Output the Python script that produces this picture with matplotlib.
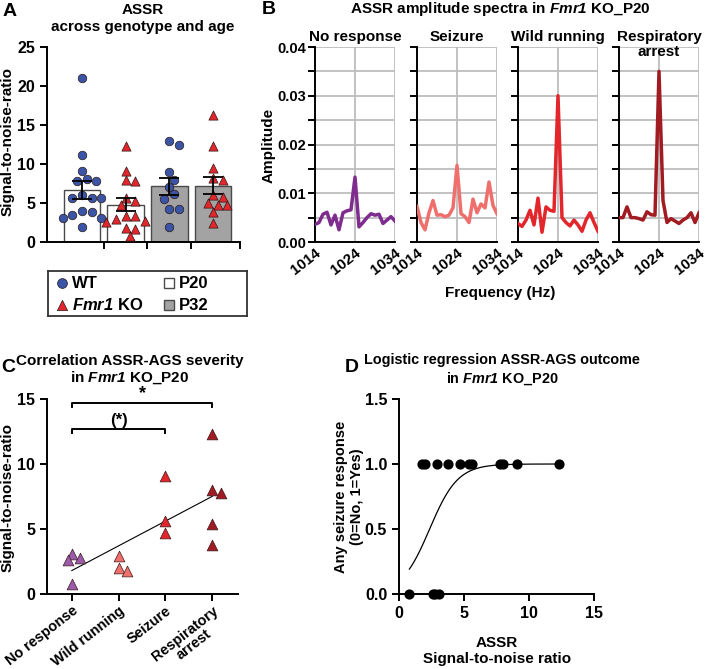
import numpy as np
import matplotlib
matplotlib.use("Agg")
import matplotlib.pyplot as plt
from matplotlib.patches import Rectangle

plt.rcParams.update({
    "font.family": "Liberation Sans",
    "font.weight": "bold",
    "axes.labelweight": "bold",
    "axes.titleweight": "bold",
    "mathtext.fontset": "custom",
    "mathtext.it": "Liberation Sans:italic:bold",
    "mathtext.rm": "Liberation Sans:italic:bold",
    "mathtext.bf": "Liberation Sans:bold",
    "axes.linewidth": 1.4,
    "xtick.major.width": 1.4,
    "ytick.major.width": 1.4,
    "ytick.minor.width": 1.4,
    "xtick.major.size": 5,
    "ytick.major.size": 5,
    "ytick.minor.size": 5,
    "xtick.labelsize": 11,
    "ytick.labelsize": 11.5,
})

# ---- data -------------------------------------------------------------
# A: ASSR SNR per animal
groups_a = ["WT P20", "KO P20", "WT P32", "KO P32"]
wt_p20 = [21.0, 11.1, 9.1, 8.1, 7.8, 7.8, 6.0, 5.7, 5.7, 5.6, 4.0, 3.8, 3.4, 3.1, 3.1, 1.9]
ko_p20 = [12.3, 9.1, 8.0, 7.8, 5.6, 5.3, 4.7, 3.3, 3.3, 2.9, 2.7, 2.6, 1.8, 1.7, 0.8]
wt_p32 = [12.9, 12.5, 9.0, 8.0, 7.0, 6.1, 5.5, 4.2, 4.2, 1.9]
ko_p32 = [16.3, 12.3, 9.5, 8.2, 8.0, 6.0, 5.8, 5.0, 4.7, 4.7, 3.8, 2.5]

# B: amplitude spectra (Fmr1 KO P20)
freqs = np.arange(1014, 1035)
spec_nr = [0.0036, 0.0040, 0.0057, 0.0061, 0.0035, 0.0055, 0.0025, 0.0060, 0.0064, 0.0066, 0.0133,
           0.0031, 0.0040, 0.0050, 0.0058, 0.0055, 0.0057, 0.0038, 0.0045, 0.0052, 0.0043]
spec_sz = [0.0073, 0.0040, 0.0025, 0.0060, 0.0085, 0.0055, 0.0056, 0.0052, 0.0055, 0.0070, 0.0157,
           0.0058, 0.0052, 0.0040, 0.0088, 0.0060, 0.0078, 0.0070, 0.0123, 0.0075, 0.0058]
spec_wr = [0.0038, 0.0032, 0.0045, 0.0065, 0.0035, 0.0090, 0.0020, 0.0072, 0.0065, 0.0063, 0.0300,
           0.0050, 0.0040, 0.0033, 0.0045, 0.0035, 0.0022, 0.0045, 0.0060, 0.0040, 0.0022]
spec_ra = [0.0050, 0.0050, 0.0072, 0.0050, 0.0050, 0.0048, 0.0045, 0.0062, 0.0056, 0.0055, 0.0350,
           0.0085, 0.0040, 0.0048, 0.0043, 0.0038, 0.0045, 0.0050, 0.0060, 0.0040, 0.0060]
spec_titles = ["No response", "Seizure", "Wild running", "Respiratory\narrest"]

# C/D: SNR per AGS outcome
cats_c = ["No response", "Wild running", "Seizure", "Respiratory\narrest"]
snr_nr = [3.1, 2.8, 2.6, 0.8]
snr_wr = [2.9, 2.0, 1.8]
snr_sz = [9.1, 5.6, 4.7]
snr_ra = [12.3, 8.0, 7.8, 5.4, 3.8]

BLUE = "#3B54A5"
RED = "#E3262B"
PURPLE_B = "#7E2C8E"
PURPLE_C = "#9C5AAA"
SALMON = "#EF6F6C"
DARKRED = "#A01B22"
GREY_BAR = "#A3A3A3"

W, H = 709, 669
fig = plt.figure(figsize=(W / 100, H / 100), dpi=100)


def box(l, t, r, b):
    return fig.add_axes([l / W, 1 - b / H, (r - l) / W, (b - t) / H])


def ftext(x, y, s, **kw):
    kw.setdefault("ha", "center")
    kw.setdefault("va", "center")
    return fig.text(x / W, 1 - y / H, s, **kw)


def swarm(vals, px_x, px_y, d, step=0.55):
    # simple beeswarm: offsets (data units) so markers don't overlap
    placed, offs = [], []
    for v in vals:
        cy = v * px_y
        for k in range(0, 30):
            cands = [0] if k == 0 else [k, -k]
            ok = None
            for s in cands:
                cx = s * d * step
                if all((cx - ox) ** 2 + (cy - oy) ** 2 >= d ** 2 for ox, oy in placed):
                    ok = cx
                    break
            if ok is not None:
                placed.append((ok, cy))
                offs.append(ok / px_x)
                break
    return np.array(offs)


def clean(ax):
    ax.spines["top"].set_visible(False)
    ax.spines["right"].set_visible(False)


# ---- A ----------------------------------------------------------------
axA = box(47, 47, 240, 242)
clean(axA)
a_sets = [wt_p20, ko_p20, wt_p32, ko_p32]
fills = ["white", "white", GREY_BAR, GREY_BAR]
marks = ["o", "^", "o", "^"]
mcols = [BLUE, RED, BLUE, RED]
for i, vals in enumerate(a_sets):
    v = np.array(vals)
    m = v.mean()
    sem = v.std(ddof=1) / np.sqrt(len(v))
    axA.bar(i, m, width=0.84, color=fills[i], edgecolor="#4a4a4a", lw=1.0, zorder=1)
    offs = swarm(v, 43.7, 7.8, 8.0, step=0.6)
    axA.scatter(i + offs, v, s=38 if marks[i] == "o" else 44, marker=marks[i], color=mcols[i],
                edgecolor="#2a1a1a", lw=0.5, zorder=3)
    axA.errorbar(i, m, yerr=sem, color="black", capsize=7, lw=1.3, capthick=1.3, zorder=4)
axA.set_xlim(-0.8, 3.62)
axA.set_ylim(0, 25)
axA.set_yticks(np.arange(0, 26, 5))
axA.set_xticks([0.5, 1.5, 2.5, 3.62])
axA.set_xticklabels([])
ftext(8, 142, "Signal-to-noise-ratio", rotation=90, fontsize=11)
ftext(143, 18.5, "ASSR\nacross genotype and age", fontsize=11, linespacing=1.3)
ftext(3, 12, "A", fontsize=14, ha="left")

# legend drawn in its own pixel-space axes
axL = box(48, 271, 247, 316)
axL.set_xlim(48, 247)
axL.set_ylim(316, 271)
axL.set_xticks([])
axL.set_yticks([])
for sp in axL.spines.values():
    sp.set_linewidth(1.3)
    sp.set_color("#333333")
axL.scatter([62], [283], s=50, marker="o", color=BLUE, edgecolor="#2a1a1a", lw=0.5)
axL.scatter([62], [305], s=55, marker="^", color=RED, edgecolor="#2a1a1a", lw=0.5)
axL.add_patch(Rectangle((163.5, 278), 10, 10, facecolor="white", edgecolor="#4a4a4a", lw=1))
axL.add_patch(Rectangle((163.5, 300), 10, 10, facecolor=GREY_BAR, edgecolor="#4a4a4a", lw=1))
leg_txt = [(72, 283, "WT"), (72, 305, r"$Fmr1$ KO"), (179, 283, "P20"), (179, 305, "P32")]
for lx, ly, s in leg_txt:
    axL.text(lx, ly, s, ha="left", va="center", fontsize=12)

# ---- B ----------------------------------------------------------------
spectra = [spec_nr, spec_sz, spec_wr, spec_ra]
spec_cols = [PURPLE_B, SALMON, RED, DARKRED]
for i, (lft, vals) in enumerate(zip([315, 417, 518, 619], spectra)):
    ax = box(lft, 47, lft + 80, 242)
    clean(ax)
    ax.plot(freqs, vals, color=spec_cols[i], lw=2.5, zorder=3)
    ax.set_xlim(1014, 1034)
    ax.set_ylim(0, 0.04)
    ax.set_xticks([1014, 1024, 1034])
    ax.set_yticks(np.arange(0, 0.041, 0.01))
    ax.set_yticks(np.arange(0.005, 0.04, 0.01), minor=True)
    ax.grid(True, which="both", color="#BDBDBD", lw=1.3)
    ax.set_axisbelow(True)
    ax.tick_params(axis="x", length=0, pad=3, labelsize=10.8)
    ax.tick_params(axis="y", labelsize=10.5, pad=1.5)
    for lab in ax.get_xticklabels():
        lab.set_rotation(38)
        lab.set_ha("right")
        lab.set_rotation_mode("anchor")
    if i == 0:
        ax.set_yticklabels(["0.00", "0.01", "0.02", "0.03", "0.04"])
    else:
        ax.set_yticklabels([])
    ax.text(0.5, 1.085, spec_titles[i], transform=ax.transAxes, ha="center", va="top",
            fontsize=11, linespacing=1.05)
ftext(269, 145, "Amplitude", rotation=90, fontsize=11)
ftext(500, 293, "Frequency (Hz)", fontsize=11)
ftext(500, 9, r"ASSR amplitude spectra in $Fmr1$ KO_P20", fontsize=11)
ftext(262, 10, "B", fontsize=14, ha="left")

# ---- C ----------------------------------------------------------------
axC = box(47, 399, 238, 594)
clean(axC)
c_sets = [snr_nr, snr_wr, snr_sz, snr_ra]
c_cols = [PURPLE_C, SALMON, RED, DARKRED]
xs_all, ys_all = [], []
for i, vals in enumerate(c_sets):
    v = np.array(vals)
    offs = swarm(v, 47, 13, 7.0, step=0.6)
    axC.scatter(i + offs, v, s=60, marker="^", color=c_cols[i], edgecolor="#3a1a1a",
                lw=0.5, zorder=3)
    xs_all += [i] * len(v)
    ys_all += list(v)
slope, icpt = np.polyfit(xs_all, ys_all, 1)
xx = np.array([0, 3])
axC.plot(xx, icpt + slope * xx, color="black", lw=0.8, zorder=2)
axC.plot([0, 0, 3, 3], [14.4, 14.7, 14.7, 14.4], color="black", lw=1.4, clip_on=False)
axC.text(1.5, 14.75, "*", ha="center", va="bottom", fontsize=13)
axC.plot([0, 0, 2, 2], [12.4, 12.7, 12.7, 12.4], color="black", lw=1.4, clip_on=False)
axC.text(1, 12.75, "(*)", ha="center", va="bottom", fontsize=12)
axC.set_xlim(-0.53, 3.55)
axC.set_ylim(0, 15)
axC.set_yticks([0, 5, 10, 15])
axC.set_xticks(range(4))
axC.tick_params(axis="x", pad=2)
axC.set_xticklabels(cats_c, rotation=38, ha="right", rotation_mode="anchor",
                    fontsize=10.4, linespacing=1.0, multialignment="center")
ftext(8, 497, "Signal-to-noise-ratio", rotation=90, fontsize=11)
ftext(130, 370, "Correlation ASSR-AGS severity\n" + r"in $Fmr1$ KO_P20",
      fontsize=11, linespacing=1.15)
ftext(1, 368, "C", fontsize=14, ha="left")

# ---- D ----------------------------------------------------------------
axD = box(399, 399, 594, 594)
clean(axD)
snr = np.array(snr_nr + snr_wr + snr_sz + snr_ra)
outcome = np.array([0] * len(snr_nr) + [1] * (len(snr) - len(snr_nr)), dtype=float)
X = np.column_stack([np.ones_like(snr), snr])
beta = np.zeros(2)
for _ in range(60):
    p = 1 / (1 + np.exp(-X @ beta))
    wgt = p * (1 - p)
    beta += np.linalg.solve(X.T @ (X * wgt[:, None]), X.T @ (outcome - p))
xc = np.linspace(snr.min(), snr.max(), 200)
axD.plot(xc, 1 / (1 + np.exp(-(beta[0] + beta[1] * xc))), color="black", lw=0.9, zorder=2)
axD.scatter(snr, outcome, s=40, color="black", zorder=3, clip_on=False)
axD.set_xlim(0, 15)
axD.set_ylim(0, 1.5)
axD.set_xticks([0, 5, 10, 15])
axD.set_yticks([0, 0.5, 1.0, 1.5])
axD.set_yticklabels(["0.0", "0.5", "1.0", "1.5"])
axD.tick_params(labelsize=11.5)
ftext(349, 497, "Any seizure response\n(0=No, 1=Yes)", rotation=90, fontsize=10.5,
      linespacing=1.2)
ftext(497, 651, "ASSR\nSignal-to-noise ratio", fontsize=11, linespacing=1.2)
ftext(502, 370, "Logistic regression ASSR-AGS outcome\n" + r"in $Fmr1$ KO_P20",
      fontsize=10.4, linespacing=1.2)
ftext(345, 368, "D", fontsize=14, ha="left")

fig.savefig("out.png", dpi=100)
